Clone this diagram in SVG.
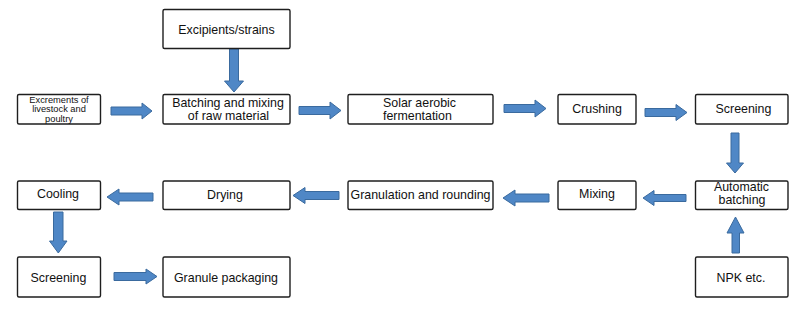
<svg xmlns="http://www.w3.org/2000/svg" width="800" height="311" viewBox="0 0 800 311">
<style>
.box{fill:#fff;stroke:#1e1e1e;stroke-width:1.4}
.t{font-family:"Liberation Sans",Arial,sans-serif;font-size:12.4px;fill:#111}
.s{font-size:9.3px}
.m{text-anchor:middle}
.a{fill:#4f87c6;stroke:#3a6a9e;stroke-width:1}
</style>
<rect width="800" height="311" fill="#fff"/>
<g id="connectors">
<polygon class="a" points="111,107 142,107 142,103 152,111 142,119 142,115 111,115"/>
<polygon class="a" points="299,106.5 330,106.5 330,102 341,110.5 330,119 330,114.5 299,114.5"/>
<polygon class="a" points="504,104.5 535,104.5 535,100 546,108.5 535,117 535,112.5 504,112.5"/>
<polygon class="a" points="645,108.5 676,108.5 676,104.5 687,112.5 676,120.5 676,116.5 645,116.5"/>
<polygon class="a" points="229.5,49 238.5,49 238.5,81 243.5,81 234,92 224.5,81 229.5,81"/>
<polygon class="a" points="731,133 739,133 739,163 743.5,163 735,173 726.5,163 731,163"/>
<polygon class="a" points="732,253 739.5,253 739.5,233 744,233 735.5,217 727,233 732,233"/>
<polygon class="a" points="153,193 119,193 119,189 107,197 119,205 119,201 153,201"/>
<polygon class="a" points="339,191.5 305,191.5 305,187.5 293,195.5 305,203.5 305,199.5 339,199.5"/>
<polygon class="a" points="549,194 515,194 515,190 503,198 515,206 515,202 549,202"/>
<polygon class="a" points="686,194.5 654,194.5 654,190.5 643,198 654,205.5 654,201.5 686,201.5"/>
<polygon class="a" points="53.5,212 63,212 63,241 67,241 58.3,253 49.5,241 53.5,241"/>
<polygon class="a" points="114,272.5 146,272.5 146,269 157,276.5 146,284 146,280.5 114,280.5"/>
</g>
<g id="n-excipients"><rect class="box" x="163" y="9.5" width="127" height="39" rx="1.5"/><text class="t m" x="226.5" y="33.5" font-size="12.6">Excipients/strains</text></g>
<g id="n-excrements"><rect class="box" x="17.5" y="94.5" width="83" height="29.5" rx="1.5"/><text class="t s m" x="59" y="102.5">Excrements of</text><text class="t s m" x="59" y="112">livestock and</text><text class="t s m" x="59" y="121.5">poultry</text></g>
<g id="n-batching"><rect class="box" x="163" y="94.5" width="127" height="29.5" rx="1.5"/><text class="t m" x="228" y="107.2">Batching and mixing</text><text class="t m" x="228.5" y="119.8">of raw material</text></g>
<g id="n-solar"><rect class="box" x="348" y="94.5" width="145" height="29.5" rx="1.5"/><text class="t" x="383" y="107.2">Solar aerobic</text><text class="t" x="383" y="119.8">fermentation</text></g>
<g id="n-crushing"><rect class="box" x="558" y="94.5" width="78" height="29.5" rx="1.5"/><text class="t m" x="597" y="112.5">Crushing</text></g>
<g id="n-screening1"><rect class="box" x="695.5" y="94.5" width="92.5" height="29.5" rx="1.5"/><text class="t m" x="743.5" y="112.5">Screening</text></g>
<g id="n-automatic"><rect class="box" x="695.5" y="181" width="92.5" height="28.5" rx="1.5"/><text class="t m" x="741.5" y="191.2">Automatic</text><text class="t m" x="742" y="204">batching</text></g>
<g id="n-mixing"><rect class="box" x="558" y="181" width="78" height="28.5" rx="1.5"/><text class="t m" x="597" y="197.5">Mixing</text></g>
<g id="n-granulation"><rect class="box" x="348" y="181" width="145" height="28.5" rx="1.5"/><text class="t m" x="420.5" y="198.5">Granulation and rounding</text></g>
<g id="n-drying"><rect class="box" x="163" y="181" width="127" height="28.5" rx="1.5"/><text class="t m" x="225" y="198.5">Drying</text></g>
<g id="n-cooling"><rect class="box" x="17.5" y="181" width="83" height="28.5" rx="1.5"/><text class="t m" x="58" y="197.5">Cooling</text></g>
<g id="n-screening2"><rect class="box" x="17.5" y="257" width="83" height="40" rx="1.5"/><text class="t m" x="58.5" y="281.5">Screening</text></g>
<g id="n-packaging"><rect class="box" x="163" y="257" width="127" height="40" rx="1.5"/><text class="t m" x="226" y="281.5">Granule packaging</text></g>
<g id="n-npk"><rect class="box" x="695.5" y="257" width="92.5" height="40" rx="1.5"/><text class="t m" x="741" y="281.5">NPK etc.</text></g>
</svg>
